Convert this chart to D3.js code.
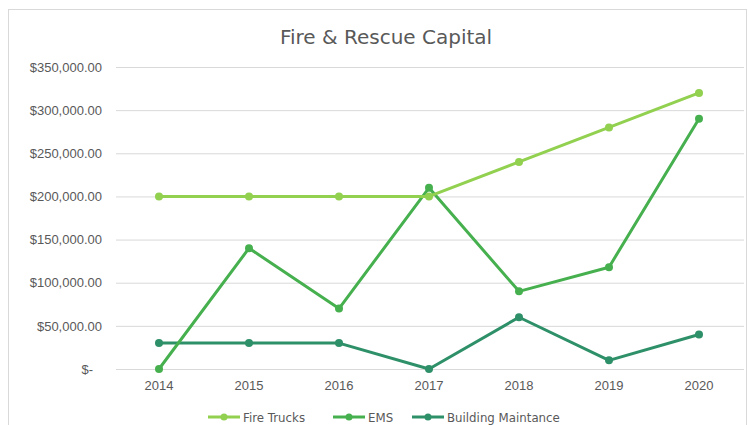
<!DOCTYPE html>
<html><head><meta charset="utf-8">
<script src="https://cdn.jsdelivr.net/npm/d3@7"></script>
<style>
html,body{margin:0;padding:0;background:#fff;}
svg{display:block;font-family:"DejaVu Sans",sans-serif;}
</style></head><body>
<svg id="c" width="749" height="425"></svg>
<script>
const years = ["2014","2015","2016","2017","2018","2019","2020"];
const fireTrucks = [200000,200000,200000,200000,240000,280000,320000];
const ems = [0,140000,70000,210000,90000,118000,290000];
const building = [30000,30000,30000,0,60000,10000,40000];
const yTicks = [0,50000,100000,150000,200000,250000,300000,350000];
const seriesNames = ["Fire Trucks","EMS","Building Maintance"];
const colors = ["#92d050","#46b04f","#2e9068"];

const svg = d3.select("#c");
svg.append("rect").attr("x",8.5).attr("y",9.5).attr("width",738).attr("height",440)
  .attr("fill","#fff").attr("stroke","#d9d9d9");

const x = d3.scaleBand().domain(years).range([114,744]);
const y = d3.scaleLinear().domain([0,350000]).range([369,67]);

svg.append("text").attr("x",386).attr("y",44).attr("text-anchor","middle")
  .attr("font-size",20).attr("fill","#595959").text("Fire & Rescue Capital");

const yAxis = svg.append("g").attr("transform","translate(116,0)")
  .call(d3.axisLeft(y).tickValues(yTicks).tickSize(-628).tickPadding(14)
    .tickFormat(d => d===0 ? "$-" : "$" + d3.format(",.2f")(d)));
yAxis.select(".domain").remove();
yAxis.selectAll("line").attr("stroke","#d9d9d9");
yAxis.selectAll("text").attr("font-size",13).attr("fill","#595959").attr("font-family","inherit");
yAxis.selectAll(".tick").filter(d=>d===0).select("text").attr("dx",-9);

const xAxis = svg.append("g").attr("transform","translate(0,369)")
  .call(d3.axisBottom(x).tickSize(0).tickPadding(12));
xAxis.select(".domain").remove();
xAxis.selectAll("text").attr("font-size",13).attr("fill","#595959").attr("font-family","inherit");

const data = [fireTrucks, ems, building];
const line = d3.line().x((d,i)=>x(years[i])+x.bandwidth()/2).y(d=>y(d));
[2,1,0].forEach(k=>{
  const g = svg.append("g");
  g.append("path").attr("d",line(data[k])).attr("fill","none")
    .attr("stroke",colors[k]).attr("stroke-width",3).attr("stroke-linejoin","round").attr("stroke-linecap","round");
  g.selectAll("circle").data(data[k]).join("circle")
    .attr("cx",(d,i)=>x(years[i])+x.bandwidth()/2).attr("cy",d=>y(d)).attr("r",4).attr("fill",colors[k]);
});

const legendX = [208,333,412];
const leg = svg.append("g");
seriesNames.forEach((n,k)=>{
  const lx = legendX[k], ly = 417;
  leg.append("line").attr("x1",lx).attr("x2",lx+32).attr("y1",ly).attr("y2",ly)
    .attr("stroke",colors[k]).attr("stroke-width",3);
  leg.append("circle").attr("cx",lx+16).attr("cy",ly).attr("r",3.5).attr("fill",colors[k]);
  leg.append("text").attr("x",lx+35).attr("y",ly+4.5).attr("font-size",11.8).attr("fill","#595959").text(n);
});
</script></body></html>
